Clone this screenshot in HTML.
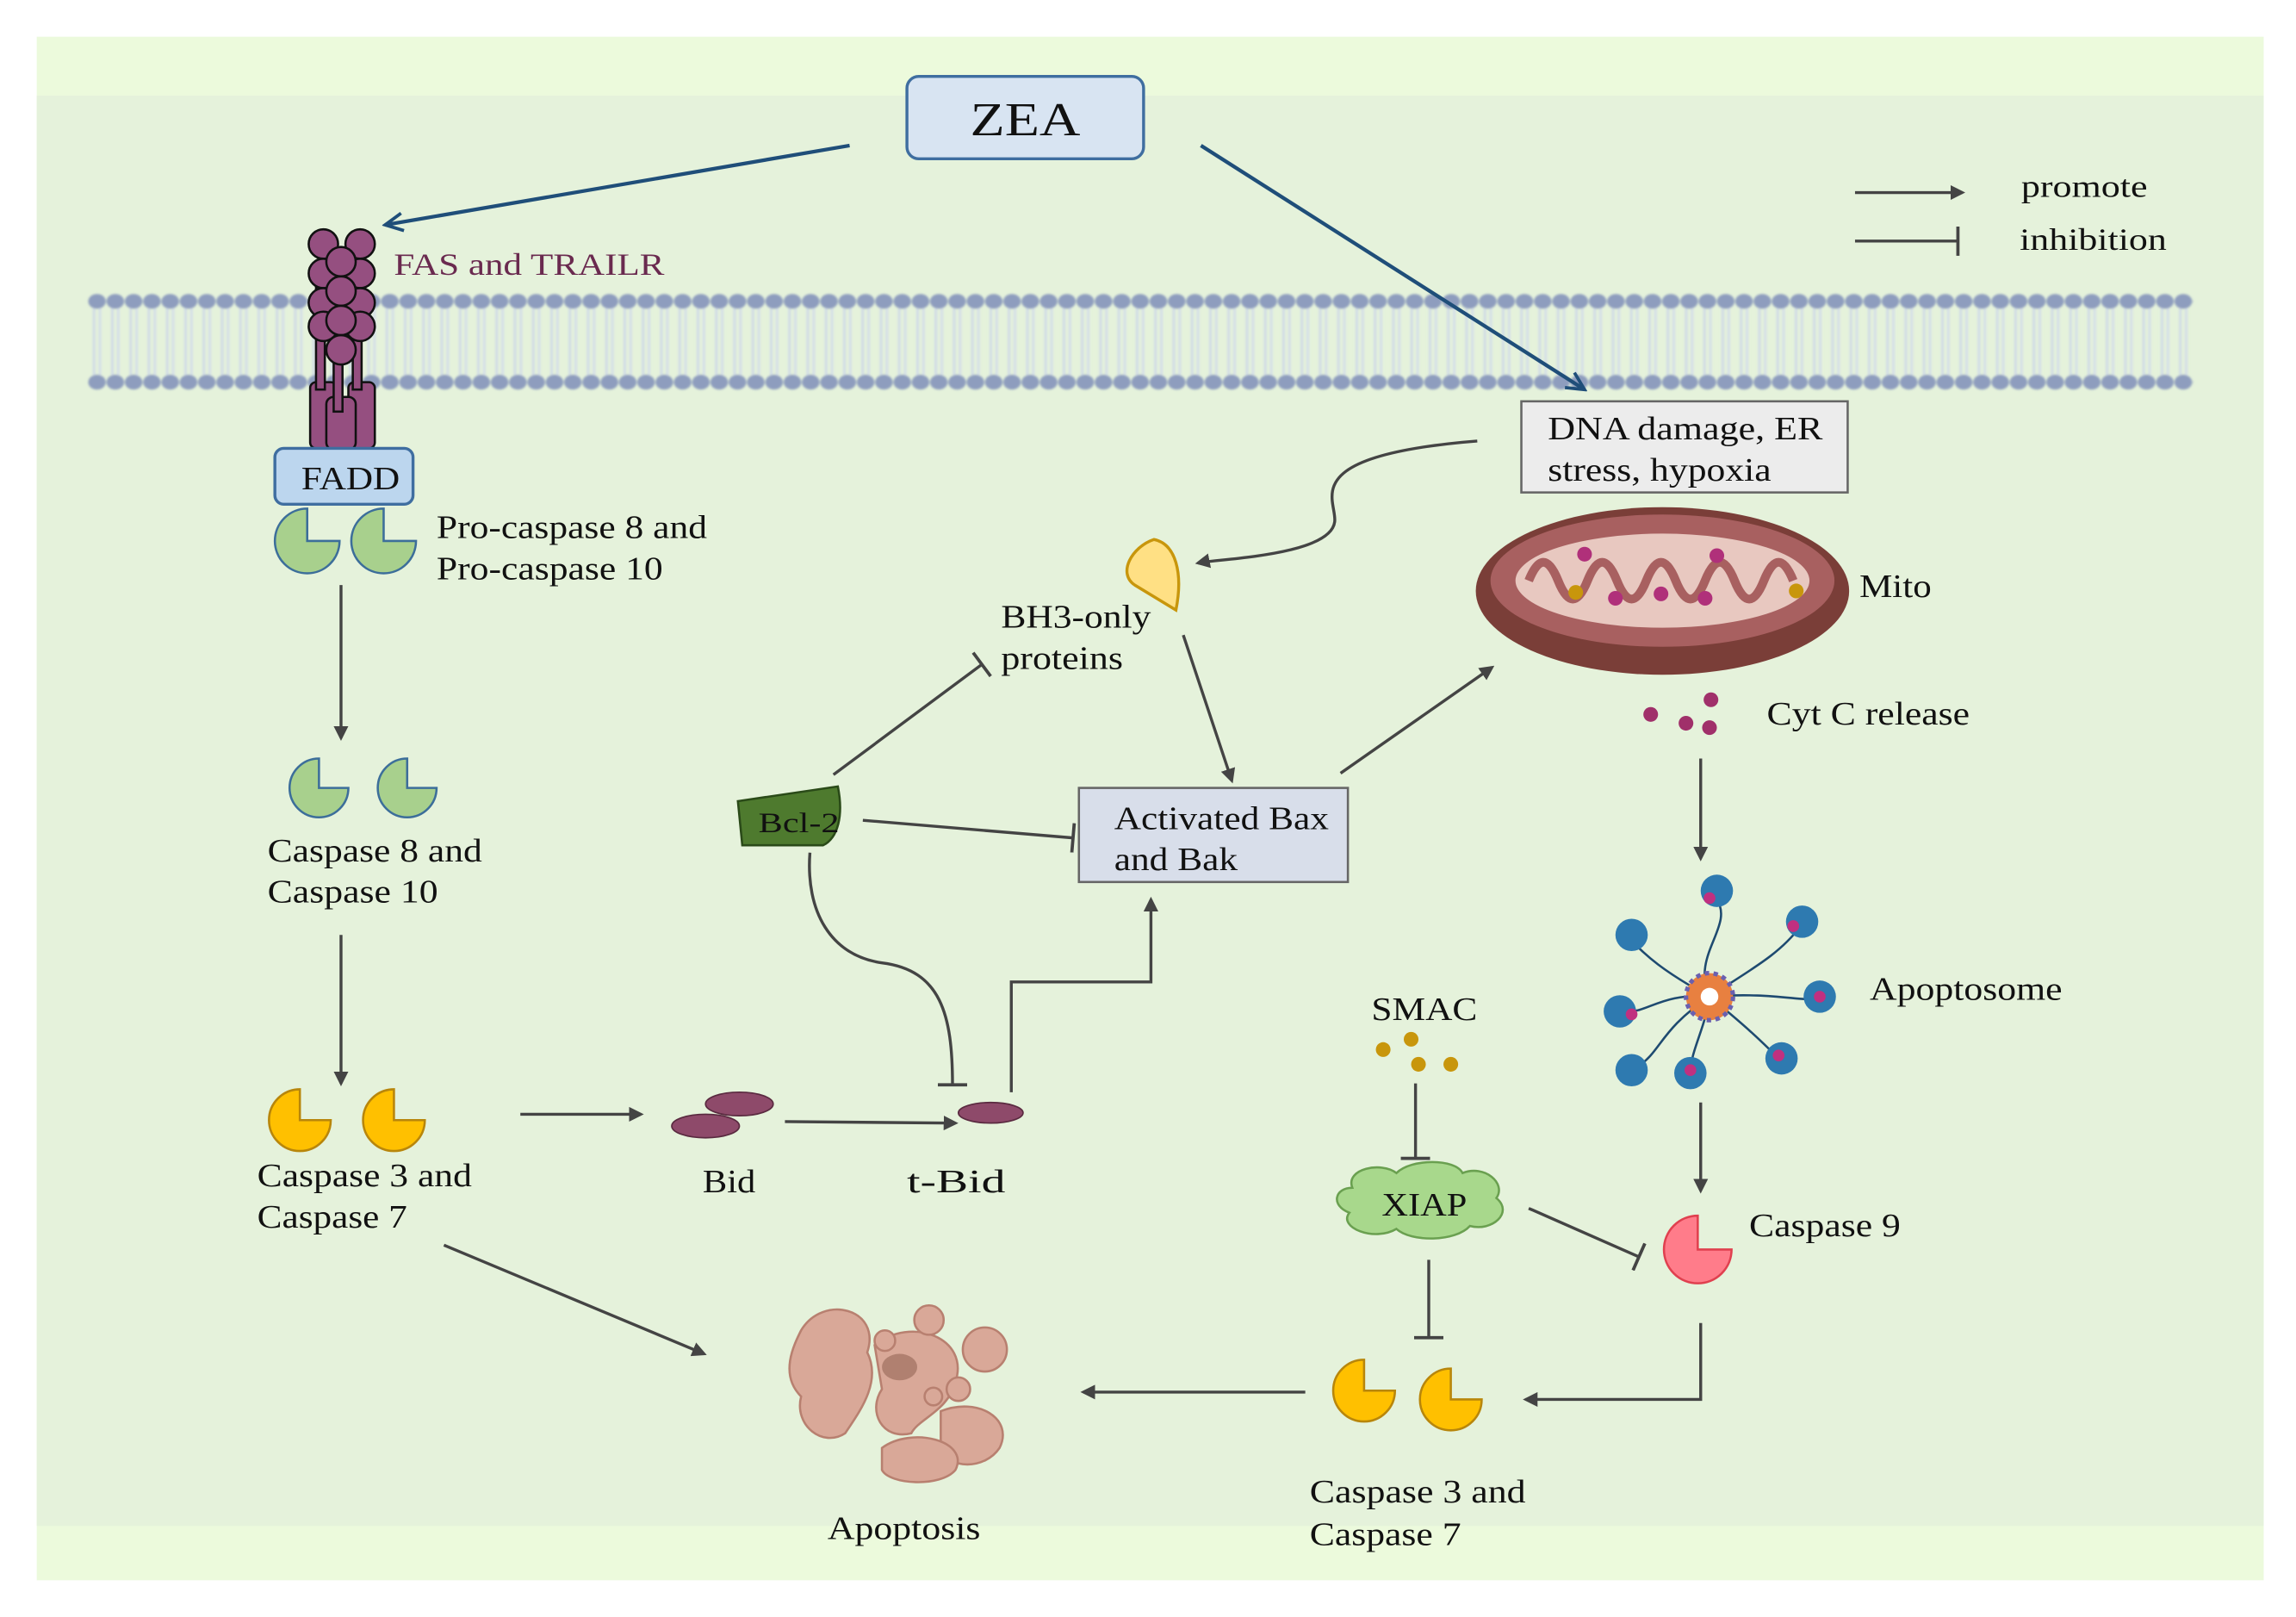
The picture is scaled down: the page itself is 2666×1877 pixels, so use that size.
<!DOCTYPE html>
<html><head><meta charset="utf-8"><style>html,body{margin:0;padding:0;background:#fff}svg{display:block}text{font-family:"Liberation Serif",serif;fill:#111}</style></head>
<body>
<svg width="2666" height="1877" viewBox="0 0 1562 1100" preserveAspectRatio="none" xmlns="http://www.w3.org/2000/svg">
<defs>
<pattern id="mem" patternUnits="userSpaceOnUse" x="60" y="196" width="12.45" height="72">
<line x1="4" y1="10" x2="4" y2="62" stroke="#d0dbe6" stroke-width="1.8"/>
<line x1="8" y1="10" x2="8" y2="62" stroke="#d4dee8" stroke-width="1.8"/>
<ellipse cx="6" cy="9" rx="6" ry="5" fill="#8e9dbe"/>
<ellipse cx="6" cy="64" rx="6" ry="5" fill="#8e9dbe"/>
</pattern>
<filter id="bl"><feGaussianBlur stdDeviation="0.8"/></filter>
<marker id="ar" markerWidth="10" markerHeight="10" refX="8" refY="5" orient="auto" markerUnits="userSpaceOnUse"><path d="M0,0 L10,5 L0,10 Z" fill="#444"/></marker>
<marker id="ab2" markerWidth="16" markerHeight="14" refX="14" refY="7" orient="auto" markerUnits="userSpaceOnUse"><path d="M2,1 L14,7 L2,13" fill="none" stroke="#1f4e79" stroke-width="2.2"/></marker>
<marker id="tb" markerWidth="4" markerHeight="20" refX="2" refY="10" orient="auto" markerUnits="userSpaceOnUse"><line x1="2" y1="0" x2="2" y2="20" stroke="#444" stroke-width="2.2"/></marker>
</defs>
<rect x="0" y="0" width="1562" height="1100" fill="#fff"/>
<rect x="25" y="25" width="1515" height="1050" fill="#ecfadc"/>
<rect x="25" y="65" width="1515" height="973" fill="#e5f2db"/>
<rect x="60" y="196" width="1432" height="72" fill="url(#mem)" filter="url(#bl)"/>

<!-- ZEA -->
<rect x="617" y="52" width="161" height="56" rx="8" fill="#d8e4f2" stroke="#3f6ea0" stroke-width="2"/>
<text x="660" y="92" font-size="32" textLength="75" lengthAdjust="spacingAndGlyphs">ZEA</text>
<line x1="578" y1="99" x2="262" y2="153" stroke="#1f4e79" stroke-width="2.5" marker-end="url(#ab2)"/>
<line x1="817" y1="99" x2="1078" y2="265" stroke="#1f4e79" stroke-width="2.5" marker-end="url(#ab2)"/>

<!-- legend -->
<line x1="1262" y1="131" x2="1335" y2="131" stroke="#444" stroke-width="2" marker-end="url(#ar)"/>
<text x="1375" y="134" font-size="21" textLength="86" lengthAdjust="spacingAndGlyphs">promote</text>
<line x1="1262" y1="164" x2="1332" y2="164" stroke="#444" stroke-width="2" marker-end="url(#tb)"/>
<text x="1374" y="170" font-size="21" textLength="100" lengthAdjust="spacingAndGlyphs">inhibition</text>

<!-- receptor -->
<g fill="#954f80" stroke="#111" stroke-width="1.5">
<rect x="211" y="260" width="18" height="45" rx="4"/><rect x="237" y="260" width="18" height="45" rx="4"/>
<rect x="222" y="270" width="20" height="36" rx="5"/>
<rect x="215" y="180" width="6" height="85"/><rect x="240" y="180" width="6" height="85"/><rect x="227" y="190" width="6" height="90"/>
<circle cx="220" cy="166" r="10"/><circle cx="245" cy="166" r="10"/><circle cx="220" cy="186" r="10"/><circle cx="245" cy="186" r="10"/><circle cx="220" cy="206" r="10"/><circle cx="245" cy="206" r="10"/><circle cx="220" cy="222" r="10"/><circle cx="245" cy="222" r="10"/>
<circle cx="232" cy="178" r="10"/><circle cx="232" cy="198" r="10"/><circle cx="232" cy="218" r="10"/><circle cx="232" cy="238" r="10"/>
</g>
<text x="268" y="187" font-size="21" style="fill:#6a2a4f" textLength="184" lengthAdjust="spacingAndGlyphs">FAS and TRAILR</text>
<rect x="187" y="305" width="94" height="38" rx="6" fill="#bcd6ee" stroke="#3f6ea0" stroke-width="2"/>
<text x="205" y="333" font-size="22" textLength="67" lengthAdjust="spacingAndGlyphs">FADD</text>

<!-- caspases -->
<g stroke-width="1.5">
<path d="M209,368 L209,346 A22,22 0 1 0 231,368 Z" fill="#a8d08d" stroke="#3c6e9a"/>
<path d="M261,368 L261,346 A22,22 0 1 0 283,368 Z" fill="#a8d08d" stroke="#3c6e9a"/>
<path d="M217,536 L217,516 A20,20 0 1 0 237,536 Z" fill="#a8d08d" stroke="#3c6e9a"/>
<path d="M277,536 L277,516 A20,20 0 1 0 297,536 Z" fill="#a8d08d" stroke="#3c6e9a"/>
<path d="M204,762 L204,741 A21,21 0 1 0 225,762 Z" fill="#ffc000" stroke="#b8860b"/>
<path d="M268,762 L268,741 A21,21 0 1 0 289,762 Z" fill="#ffc000" stroke="#b8860b"/>
<path d="M928,946 L928,925 A21,21 0 1 0 949,946 Z" fill="#ffc000" stroke="#b8860b"/>
<path d="M987,952 L987,931 A21,21 0 1 0 1008,952 Z" fill="#ffc000" stroke="#b8860b"/>
<path d="M1155,850 L1155,827 A23,23 0 1 0 1178,850 Z" fill="#ff7c8a" stroke="#e0404f"/>
</g>
<g font-size="22">
<text x="297" y="366" textLength="184" lengthAdjust="spacingAndGlyphs">Pro-caspase 8 and</text>
<text x="297" y="394" textLength="154" lengthAdjust="spacingAndGlyphs">Pro-caspase 10</text>
<text x="182" y="586" textLength="146" lengthAdjust="spacingAndGlyphs">Caspase 8 and</text>
<text x="182" y="614" textLength="116" lengthAdjust="spacingAndGlyphs">Caspase 10</text>
<text x="175" y="807" textLength="146" lengthAdjust="spacingAndGlyphs">Caspase 3 and</text>
<text x="175" y="835" textLength="102" lengthAdjust="spacingAndGlyphs">Caspase 7</text>
<text x="891" y="1022" textLength="147" lengthAdjust="spacingAndGlyphs">Caspase 3 and</text>
<text x="891" y="1051" textLength="103" lengthAdjust="spacingAndGlyphs">Caspase 7</text>
<text x="1190" y="841" textLength="103" lengthAdjust="spacingAndGlyphs">Caspase 9</text>
</g>

<g stroke="#444" stroke-width="2" fill="none">
<line x1="232" y1="398" x2="232" y2="502" marker-end="url(#ar)"/>
<line x1="232" y1="636" x2="232" y2="737" marker-end="url(#ar)"/>
<line x1="354" y1="758" x2="436" y2="758" marker-end="url(#ar)"/>
<line x1="534" y1="763" x2="650" y2="764" marker-end="url(#ar)"/>
<line x1="302" y1="847" x2="479" y2="921" marker-end="url(#ar)"/>
<line x1="888" y1="947" x2="737" y2="947" marker-end="url(#ar)"/>
<path d="M1157,900 L1157,952 L1038,952" marker-end="url(#ar)"/>
<line x1="1157" y1="516" x2="1157" y2="584" marker-end="url(#ar)"/>
<line x1="1157" y1="750" x2="1157" y2="810" marker-end="url(#ar)"/>
<line x1="805" y1="432" x2="838" y2="531" marker-end="url(#ar)"/>
<line x1="912" y1="526" x2="1015" y2="454" marker-end="url(#ar)"/>
<path d="M688,743 L688,668 L783,668 L783,612" marker-end="url(#ar)"/>
<path d="M1005,300 C880,310 910,340 908,355 C905,378 830,380 815,383" marker-end="url(#ar)"/>
<line x1="567" y1="527" x2="668" y2="452" marker-end="url(#tb)"/>
<line x1="587" y1="558" x2="730" y2="570" marker-end="url(#tb)"/>
<path d="M551,580 C548,620 565,650 600,655 C640,660 648,690 648,738" marker-end="url(#tb)"/>
<line x1="963" y1="737" x2="963" y2="788" marker-end="url(#tb)"/>
<line x1="972" y1="857" x2="972" y2="910" marker-end="url(#tb)"/>
<line x1="1040" y1="822" x2="1115" y2="855" marker-end="url(#tb)"/>
</g>

<!-- DNA box -->
<rect x="1035" y="273" width="222" height="62" fill="#ececec" stroke="#666" stroke-width="1.5"/>
<text x="1053" y="299" font-size="22" textLength="187" lengthAdjust="spacingAndGlyphs">DNA damage, ER</text>
<text x="1053" y="327" font-size="22" textLength="152" lengthAdjust="spacingAndGlyphs">stress, hypoxia</text>

<!-- BH3 -->
<path d="M785,367 C770,372 760,390 772,398 L800,415 C805,390 800,370 785,367 Z" fill="#ffe084" stroke="#c8960c" stroke-width="2"/>
<text x="681" y="427" font-size="22" textLength="102" lengthAdjust="spacingAndGlyphs">BH3-only</text>
<text x="681" y="455" font-size="22" textLength="83" lengthAdjust="spacingAndGlyphs">proteins</text>

<!-- Bcl-2 -->
<path d="M502,545 L570,535 C574,555 570,570 560,575 L505,575 Z" fill="#4e7a2e" stroke="#2a4a18" stroke-width="1.5"/>
<text x="516" y="566" font-size="19" textLength="55" lengthAdjust="spacingAndGlyphs">Bcl-2</text>

<!-- Bax box -->
<rect x="734" y="536" width="183" height="64" fill="#d8deea" stroke="#666" stroke-width="1.5"/>
<text x="758" y="564" font-size="22" textLength="146" lengthAdjust="spacingAndGlyphs">Activated Bax</text>
<text x="758" y="592" font-size="22" textLength="84" lengthAdjust="spacingAndGlyphs">and Bak</text>

<!-- Bid -->
<ellipse cx="503" cy="751" rx="23" ry="8" fill="#8e4a6a" stroke="#5a2a40"/>
<ellipse cx="480" cy="766" rx="23" ry="8" fill="#8e4a6a" stroke="#5a2a40"/>
<ellipse cx="674" cy="757" rx="22" ry="7" fill="#8e4a6a" stroke="#5a2a40"/>
<text x="478" y="811" font-size="22" textLength="36" lengthAdjust="spacingAndGlyphs">Bid</text>
<text x="617" y="811" font-size="22" textLength="67" lengthAdjust="spacingAndGlyphs">t-Bid</text>

<!-- Mito -->
<ellipse cx="1131" cy="402" rx="127" ry="57" fill="#7a3e38"/>
<ellipse cx="1131" cy="395" rx="117" ry="45" fill="#a86060"/>
<ellipse cx="1131" cy="395" rx="100" ry="32" fill="#e8c8c0"/>
<path d="M1040,395 q10,-25 20,0 q10,25 20,0 q10,-25 20,0 q10,25 20,0 q10,-25 20,0 q10,25 20,0 q10,-25 20,0 q10,25 20,0 q10,-25 20,0" fill="none" stroke="#a86060" stroke-width="6"/>
<g fill="#b0307a"><circle cx="1078" cy="377" r="5"/><circle cx="1168" cy="378" r="5"/><circle cx="1099" cy="407" r="5"/><circle cx="1130" cy="404" r="5"/><circle cx="1160" cy="407" r="5"/></g>
<g fill="#c8960c"><circle cx="1072" cy="403" r="5"/><circle cx="1222" cy="402" r="5"/></g>
<text x="1265" y="406" font-size="22" textLength="49" lengthAdjust="spacingAndGlyphs">Mito</text>
<g fill="#a0306a"><circle cx="1123" cy="486" r="5"/><circle cx="1147" cy="492" r="5"/><circle cx="1164" cy="476" r="5"/><circle cx="1163" cy="495" r="5"/></g>
<text x="1202" y="493" font-size="22" textLength="138" lengthAdjust="spacingAndGlyphs">Cyt C release</text>

<!-- Apoptosome -->
<g stroke="#1e4a70" stroke-width="1.5" fill="none">
<path d="M1163,678 C1150,650 1180,630 1168,612"/><path d="M1163,678 C1190,660 1210,650 1225,630"/><path d="M1163,678 C1200,675 1220,680 1235,680"/><path d="M1163,678 C1190,700 1200,710 1210,720"/><path d="M1163,678 C1160,700 1150,715 1150,730"/><path d="M1163,678 C1130,700 1130,715 1115,725"/><path d="M1163,678 C1130,675 1120,690 1105,688"/><path d="M1163,678 C1130,660 1120,650 1110,640"/>
</g>
<g fill="#2e7ab0"><circle cx="1168" cy="606" r="11"/><circle cx="1226" cy="627" r="11"/><circle cx="1238" cy="678" r="11"/><circle cx="1212" cy="720" r="11"/><circle cx="1150" cy="730" r="11"/><circle cx="1110" cy="728" r="11"/><circle cx="1102" cy="688" r="11"/><circle cx="1110" cy="636" r="11"/></g>
<g fill="#c03080"><circle cx="1163" cy="611" r="4"/><circle cx="1220" cy="630" r="4"/><circle cx="1238" cy="678" r="4"/><circle cx="1210" cy="718" r="4"/><circle cx="1150" cy="728" r="4"/><circle cx="1110" cy="690" r="4"/></g>
<circle cx="1163" cy="678" r="16" fill="#e88040" stroke="#6a60b0" stroke-width="3" stroke-dasharray="3,3"/>
<circle cx="1163" cy="678" r="6" fill="#fff"/>
<text x="1272" y="680" font-size="22" textLength="131" lengthAdjust="spacingAndGlyphs">Apoptosome</text>

<!-- SMAC / XIAP -->
<text x="933" y="694" font-size="22" textLength="72" lengthAdjust="spacingAndGlyphs">SMAC</text>
<g fill="#c8960c"><circle cx="941" cy="714" r="5"/><circle cx="960" cy="707" r="5"/><circle cx="965" cy="724" r="5"/><circle cx="987" cy="724" r="5"/></g>
<path d="M920,808 C915,795 940,790 950,798 C960,788 990,788 995,798 C1010,792 1025,805 1018,815 C1030,825 1015,838 1000,834 C990,845 960,845 950,836 C935,845 910,835 918,825 C905,820 908,808 920,808 Z" fill="#a8d88c" stroke="#6aa050" stroke-width="1.5"/>
<text x="940" y="827" font-size="22" textLength="58" lengthAdjust="spacingAndGlyphs">XIAP</text>

<!-- Apoptosis -->
<g fill="#d9a898" stroke="#b88070" stroke-width="1.5">
<path d="M545,905 C560,880 600,890 590,920 C600,940 585,960 575,975 C560,985 540,970 545,950 C530,935 540,915 545,905 Z"/>
<path d="M595,915 C620,895 660,910 650,940 C645,960 625,965 620,975 C600,980 590,960 600,945 Z"/>
<path d="M640,960 C665,950 690,965 680,985 C670,1000 645,1000 640,985 Z"/>
<path d="M600,985 C620,970 660,980 650,1000 C640,1012 605,1010 600,1000 Z"/>
<circle cx="632" cy="898" r="10"/><circle cx="670" cy="918" r="15"/><circle cx="652" cy="945" r="8"/><circle cx="602" cy="912" r="7"/><circle cx="635" cy="950" r="6"/>
</g>
<ellipse cx="612" cy="930" rx="12" ry="9" fill="#b08070"/>
<text x="563" y="1047" font-size="22" textLength="104" lengthAdjust="spacingAndGlyphs">Apoptosis</text>
</svg>
</body></html>
